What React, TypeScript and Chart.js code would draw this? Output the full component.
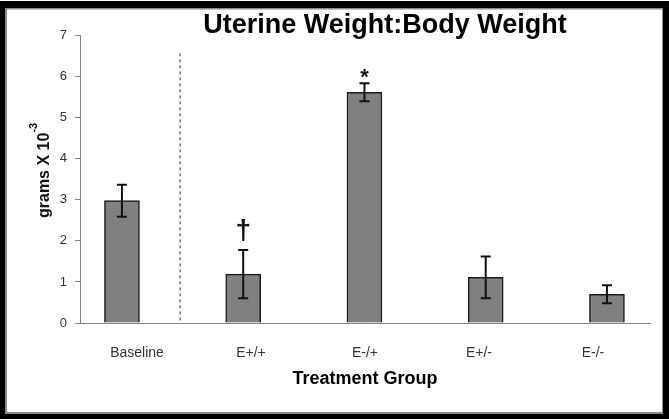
import React, { useEffect, useRef } from 'react';
import { Chart, registerables } from 'chart.js';

Chart.register(...registerables);

const chartTitle = 'Uterine Weight:Body Weight';
const categories = ['Baseline', 'E+/+', 'E-/+', 'E+/-', 'E-/-'];
const meanValues = [2.98, 1.19, 5.62, 1.11, 0.70];
const errorValues = [0.39, 0.59, 0.22, 0.51, 0.22];
const significanceMarks = ['', '\u2020', '*', '', ''];
const yTickValues = [0, 1, 2, 3, 4, 5, 6, 7];
const yAxisTitle = 'grams X 10';
const yAxisExponent = '-3';
const xAxisTitle = 'Treatment Group';
const dividerPosition = 0.48;
const dividerTopValue = 6.57;

const FONT = '"Liberation Sans", Arial, Helvetica, sans-serif';

const framePlugin = {
  id: 'frame',
  beforeDraw(chart: any) {
    const { ctx, width, height } = chart;
    ctx.save();
    ctx.fillStyle = '#ffffff';
    ctx.fillRect(0, 0, width, height);
    ctx.fillStyle = '#000000';
    ctx.fillRect(0, 1, width, height - 1);
    ctx.fillStyle = '#8a8a8a';
    ctx.fillRect(5, 8, width - 11, height - 13);
    ctx.fillStyle = '#ffffff';
    ctx.fillRect(7, 9.5, width - 14, height - 16.5);
    ctx.restore();
  },
};

const decorPlugin = {
  id: 'decor',
  beforeDatasetsDraw(chart: any) {
    const { ctx } = chart;
    const xb = chart.scales.xBar;
    const y = chart.scales.y;
    const px = xb.getPixelForValue(dividerPosition);
    ctx.save();
    ctx.strokeStyle = '#7a7a7a';
    ctx.lineWidth = 1.5;
    ctx.setLineDash([3, 3]);
    ctx.beginPath();
    ctx.moveTo(px, y.getPixelForValue(dividerTopValue));
    ctx.lineTo(px, y.getPixelForValue(0));
    ctx.stroke();
    ctx.restore();
  },
  afterDatasetsDraw(chart: any) {
    const { ctx } = chart;
    const y = chart.scales.y;
    const meta = chart.getDatasetMeta(0);
    ctx.save();
    ctx.strokeStyle = '#111111';
    ctx.lineWidth = 2;
    meta.data.forEach((bar: any, i: number) => {
      const x = bar.x;
      const top = y.getPixelForValue(meanValues[i] + errorValues[i]);
      const bot = y.getPixelForValue(meanValues[i] - errorValues[i]);
      ctx.beginPath();
      ctx.moveTo(x, top);
      ctx.lineTo(x, bot);
      ctx.moveTo(x - 5, top);
      ctx.lineTo(x + 5, top);
      ctx.moveTo(x - 5, bot);
      ctx.lineTo(x + 5, bot);
      ctx.stroke();
      const mark = significanceMarks[i];
      if (mark) {
        ctx.fillStyle = '#111111';
        ctx.textAlign = 'center';
        ctx.textBaseline = 'alphabetic';
        if (mark === '*') {
          ctx.font = `bold 22px ${FONT}`;
          ctx.fillText(mark, x, top + 1);
        } else {
          ctx.font = `bold 28px ${FONT}`;
          ctx.fillText(mark, x, top - 11);
        }
      }
    });
    ctx.restore();
  },
  afterDraw(chart: any) {
    const { ctx } = chart;
    ctx.save();
    ctx.fillStyle = '#000000';
    ctx.font = `bold 27px ${FONT}`;
    ctx.textAlign = 'center';
    ctx.textBaseline = 'alphabetic';
    ctx.fillText(chartTitle, 385, 33);
    ctx.translate(49, 218);
    ctx.rotate(-Math.PI / 2);
    ctx.textAlign = 'left';
    ctx.font = `bold 16px ${FONT}`;
    ctx.fillStyle = '#111111';
    ctx.fillText(yAxisTitle, 0, 0);
    const w = ctx.measureText(yAxisTitle).width;
    ctx.font = `bold 11px ${FONT}`;
    ctx.fillText(yAxisExponent, w, -12);
    ctx.restore();
  },
};

export default function App() {
  const ref = useRef<HTMLCanvasElement | null>(null);
  useEffect(() => {
    if (!ref.current) return;
    const chart = new Chart(ref.current, {
      type: 'bar',
      data: {
        labels: categories,
        datasets: [
          {
            data: categories.map((_, i) => ({ x: i, y: meanValues[i] })) as any,
            xAxisID: 'xBar',
            yAxisID: 'y',
            backgroundColor: '#808080',
            borderColor: '#1a1a1a',
            borderWidth: 1.5,
            barThickness: 35,
          },
        ],
      },
      options: {
        responsive: false,
        animation: false,
        layout: { padding: { left: 40, right: 19, top: 35.7, bottom: 0 } },
        plugins: {
          legend: { display: false },
          tooltip: { enabled: false },
          title: { display: false },
        },
        scales: {
          x: {
            type: 'category',
            position: 'bottom',
            offset: true,
            grid: { display: false },
            border: { display: true, color: '#858585', width: 1 },
            ticks: {
              padding: 14,
              color: '#333333',
              font: { family: FONT, size: 14 },
              maxRotation: 0,
              autoSkip: false,
            },
            title: {
              display: true,
              text: xAxisTitle,
              color: '#000000',
              font: { family: FONT, size: 18, weight: 'bold' },
              padding: { top: 0, bottom: 29 },
            },
            afterFit: (s: any) => {
              s.height = 96;
            },
          },
          xBar: {
            type: 'linear',
            position: 'bottom',
            display: false,
            offset: false,
            min: -0.346,
            max: 4.355,
            grid: { display: false, offset: false },
          },
          y: {
            type: 'linear',
            position: 'left',
            min: 0,
            max: 7,
            grid: {
              display: true,
              drawOnChartArea: false,
              drawTicks: true,
              tickLength: 5,
              color: '#858585',
            },
            border: { display: true, color: '#858585', width: 1 },
            ticks: {
              padding: 8,
              color: '#333333',
              font: { family: FONT, size: 13 },
            },
            afterBuildTicks: (s: any) => {
              s.ticks = yTickValues.map((v) => ({ value: v }));
            },
            afterFit: (s: any) => {
              s.width = 40;
            },
          },
        },
      } as any,
      plugins: [framePlugin, decorPlugin],
    });
    return () => chart.destroy();
  }, []);
  return (
    <div style={{ position: 'fixed', left: 0, top: 0, width: 669, height: 419 }}>
      <canvas ref={ref} width={669} height={419} style={{ display: 'block' }} />
    </div>
  );
}
